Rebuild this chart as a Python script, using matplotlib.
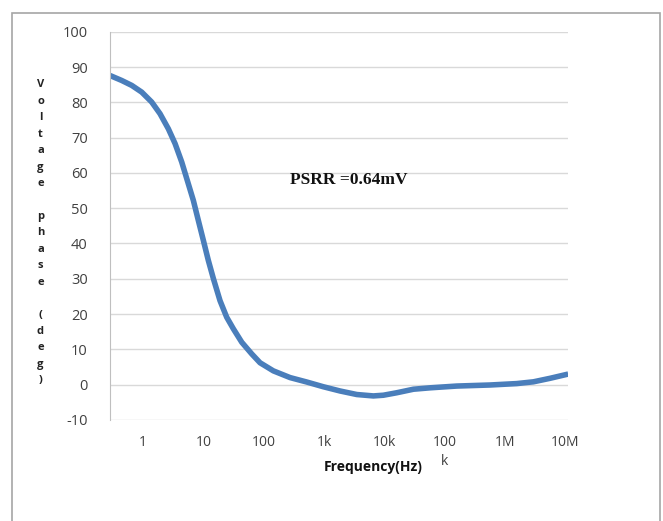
import matplotlib
matplotlib.use("Agg")
import matplotlib.pyplot as plt
import matplotlib.patches as patches

plt.rcParams["axes.unicode_minus"] = False

# Phase response
freq = [0.284, 0.303, 0.443, 0.650, 0.951, 1.39, 1.91, 2.63, 3.40, 4.38, 5.64, 6.83, 8.27,
        10.0, 12.1, 14.7, 18.9, 24.4, 31.5, 43.4, 63.5, 87.1, 145, 274, 519, 977,
        1850, 3500, 6590, 9660, 16100, 30400, 57500, 159000, 569000, 1.57e6, 2.97e6,
        5.62e6, 1.12e7]
phase = [87.6, 87.4, 86.2, 84.8, 82.9, 80.1, 76.8, 72.5, 68.3, 63.1, 56.9, 52.2, 46.5,
         40.9, 35.2, 30.0, 23.8, 19.1, 15.8, 12.0, 8.7, 6.2, 3.9, 2.0, 0.74, -0.6,
         -1.8, -2.8, -3.2, -3.0, -2.3, -1.3, -0.9, -0.4, -0.1, 0.3, 0.8,
         1.8, 3.0]

xticks = [1, 10, 100, 1e3, 1e4, 1e5, 1e6, 1e7]
xticklabels = ["1", "10", "100", "1k", "10k", "100\nk", "1M", "10M"]
yticks = list(range(-10, 101, 10))

fig = plt.figure(figsize=(6.63, 5.21), dpi=100)
ax = fig.add_axes([0.166, 0.194, 0.691, 0.745])

# outer frame
fig.patches.append(patches.Rectangle((0.018, -0.05), 0.977, 1.025, transform=fig.transFigure,
                                     fill=False, edgecolor="#a6a6a6", linewidth=1.2))

ax.plot(freq, phase, color="#4a7ebb", linewidth=4, solid_capstyle="butt")

ax.set_xscale("log")
ax.set_xlim(freq[0], freq[-1])
ax.set_ylim(-10, 100)
ax.set_yticks(yticks)
ax.set_xticks(xticks)
ax.set_xticklabels(xticklabels)
ax.minorticks_off()
ax.grid(True, axis="y", color="#d9d9d9", linewidth=1)
ax.set_axisbelow(True)

for s in ["top", "right", "bottom"]:
    ax.spines[s].set_visible(False)
ax.spines["left"].set_color("#bfbfbf")

ax.tick_params(axis="y", length=0, pad=16, labelsize=10.5, labelcolor="#404040")
ax.tick_params(axis="x", length=0, pad=11, labelsize=10, labelcolor="#404040")
for lab in ax.get_xticklabels() + ax.get_yticklabels():
    lab.set_fontfamily("Open Sans")
    lab.set_linespacing(1.3)

ax.text(0.393, 0.619, "PSRR =0.64mV", transform=ax.transAxes, fontsize=12.5,
        fontweight="bold", family="Liberation Serif", va="center", ha="left", color="#111111")

fig.text(0.563, 0.104, "Frequency(Hz)", fontsize=10, fontweight="bold", family="Open Sans",
         ha="center", va="center", color="#111111")

ylab = "Voltage phase (deg)"
fig.text(0.061, 0.553, "\n".join(ylab), fontsize=8, fontweight="bold", family="Open Sans",
         ha="center", va="center", linespacing=1.68, color="#222222")

fig.savefig("out.png", dpi=100)
